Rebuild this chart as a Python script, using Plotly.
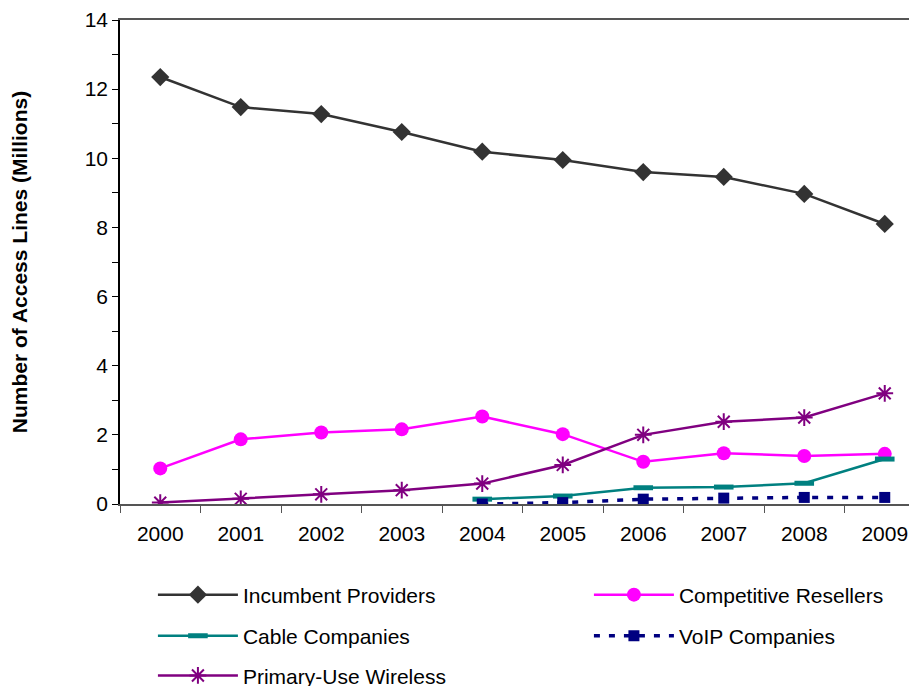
import plotly.graph_objects as go

years = ["2000", "2001", "2002", "2003", "2004", "2005", "2006", "2007", "2008", "2009"]
later_years = ["2004", "2005", "2006", "2007", "2008", "2009"]

incumbent = [12.35, 11.48, 11.28, 10.76, 10.19, 9.95, 9.6, 9.46, 8.97, 8.1]
competitive = [1.03, 1.87, 2.07, 2.16, 2.53, 2.02, 1.22, 1.47, 1.39, 1.45]
cable = [0.14, 0.23, 0.47, 0.49, 0.6, 1.3]
voip = [0.0, 0.04, 0.14, 0.17, 0.19, 0.19]
wireless = [0.04, 0.15, 0.28, 0.4, 0.59, 1.13, 2.0, 2.38, 2.5, 3.2]

FONT = "Liberation Sans, Arial, sans-serif"

fig = go.Figure()
fig.add_trace(go.Scatter(x=years, y=incumbent, name="Incumbent Providers", mode="lines+markers",
                         line=dict(color="#333333", width=2.5),
                         marker=dict(symbol="diamond", size=14, color="#333333"), legend="legend"))
fig.add_trace(go.Scatter(x=years, y=competitive, name="Competitive Resellers", mode="lines+markers",
                         line=dict(color="#FF00FF", width=2.5),
                         marker=dict(symbol="circle", size=14, color="#FF00FF"), legend="legend"))
fig.add_trace(go.Scatter(x=later_years, y=cable, name="Cable Companies", mode="lines+markers",
                         line=dict(color="#008080", width=2.5),
                         marker=dict(symbol="line-ew", size=14, color="#008080",
                                     line=dict(color="#008080", width=5)), legend="legend2"))
fig.add_trace(go.Scatter(x=later_years, y=voip, name="VoIP Companies", mode="lines+markers",
                         line=dict(color="#000080", width=3.5, dash="6px,9px"),
                         marker=dict(symbol="square", size=11, color="#000080"), legend="legend2"))
fig.add_trace(go.Scatter(x=years, y=wireless, name="Primary-Use Wireless", mode="lines+markers",
                         line=dict(color="#800080", width=2.5),
                         marker=dict(symbol="asterisk-open", size=14, color="#800080",
                                     line=dict(color="#800080", width=2)), legend="legend3"))

leg_common = dict(orientation="h", xanchor="left", yanchor="middle", x=-0.0001,
                  indentation=33,
                  font=dict(family=FONT, size=21, color="#000000"),
                  itemwidth=80, entrywidth=308, bgcolor="rgba(0,0,0,0)", traceorder="normal")

fig.update_layout(
    width=917, height=686,
    margin=dict(l=112, r=0, t=12, b=190, autoexpand=False),
    paper_bgcolor="white", plot_bgcolor="white",
    font=dict(family=FONT, size=21, color="#000000"),
    showlegend=True,
    legend=dict(leg_common, y=-0.188),
    legend2=dict(leg_common, y=-0.273),
    legend3=dict(leg_common, y=-0.355),
    xaxis=dict(type="category", range=[-0.5, 9.5], showgrid=False, showline=True,
               linecolor="#555555", linewidth=2, mirror=True, ticks="outside",
               tickson="boundaries", ticklen=7, tickcolor="#555555", tickwidth=1,
               ticklabelstandoff=10,
               tickfont=dict(family=FONT, size=21), zeroline=False),
    yaxis=dict(range=[0, 14], tickvals=[0, 2, 4, 6, 8, 10, 12, 14], showgrid=False,
               showline=True, linecolor="#000000", linewidth=1.5, ticks="outside",
               ticklen=6, tickcolor="#000000", zeroline=False,
               minor=dict(dtick=1, ticks="outside", ticklen=6, tickcolor="#000000"),
               tickfont=dict(family=FONT, size=21),
               title=dict(text="<b>Number of Access Lines (Millions)</b>",
                          font=dict(family=FONT, size=21), standoff=58),
               automargin=False),
)

fig.write_html("out.html")
